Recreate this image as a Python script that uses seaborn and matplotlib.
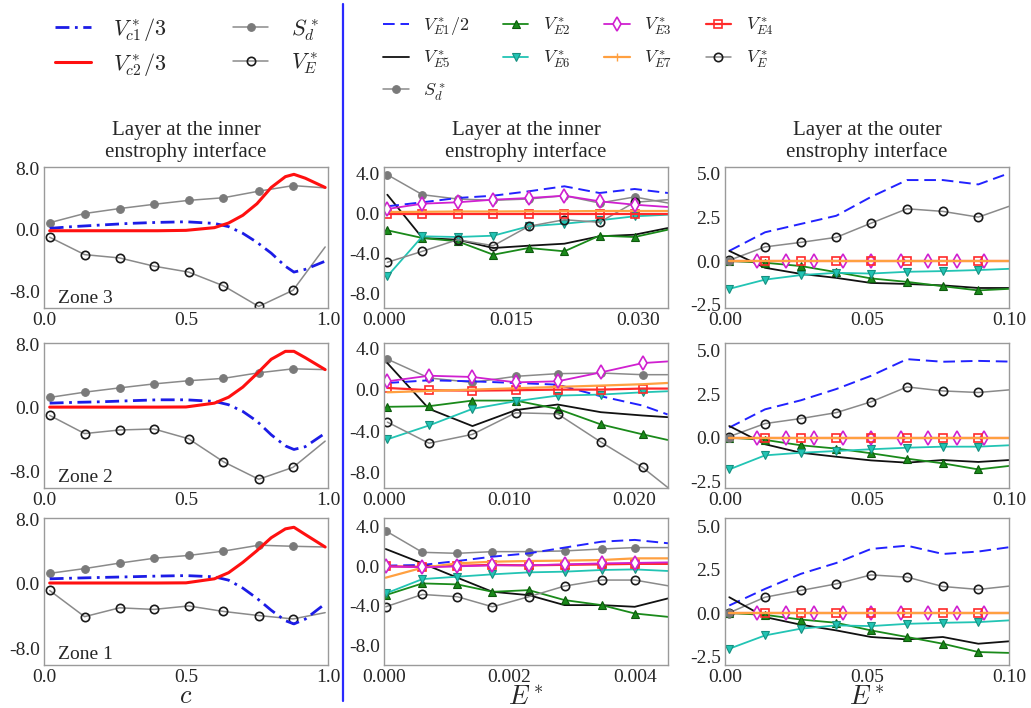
import matplotlib
matplotlib.use("Agg")
import matplotlib.pyplot as plt
from matplotlib.lines import Line2D
from matplotlib.ticker import FormatStrFormatter
import seaborn as sns

# ---------------- data ----------------
# column 1: c-space, rows = zone 3, zone 2, zone 1
c_mark = [0.02, 0.143, 0.266, 0.387, 0.509, 0.632, 0.756, 0.877, 0.99]
c_line = [0.02, 0.1, 0.2, 0.3, 0.4, 0.5, 0.6, 0.65, 0.7, 0.75, 0.8, 0.85, 0.88, 0.92, 0.99]

sd_c3 = [0.94, 2.13, 2.77, 3.32, 3.83, 4.17, 5.02, 5.74, 5.45]
ve_c3 = [-0.94, -3.19, -3.62, -4.68, -5.45, -7.23, -9.9, -7.8, -2.2]
vc1_c3 = [0.21, 0.43, 0.64, 0.85, 0.98, 1.06, 0.85, 0.43, -0.43, -1.6, -3.0, -4.7, -5.45, -5.1, -4.04]
vc2_c3 = [-0.1, -0.1, -0.1, -0.1, -0.1, -0.05, 0.3, 0.9, 1.9, 3.4, 5.5, 6.9, 7.2, 6.7, 5.5]

sd_c2 = [1.3, 1.96, 2.5, 3.0, 3.4, 3.7, 4.4, 4.9, 4.8]
ve_c2 = [-0.96, -3.25, -2.8, -2.67, -3.9, -6.8, -9.0, -7.5, -4.2]
vc1_c2 = [0.58, 0.67, 0.75, 0.88, 1.0, 1.0, 0.8, 0.38, -0.46, -1.7, -3.4, -4.8, -5.25, -4.9, -3.2]
vc2_c2 = [0.08, 0.08, 0.08, 0.08, 0.08, 0.1, 0.58, 1.33, 2.6, 4.3, 6.1, 7.1, 7.1, 6.3, 4.8]

sd_c1 = [1.28, 1.87, 2.55, 3.15, 3.5, 4.04, 4.77, 4.64, 4.55]
ve_c1 = [-0.85, -4.1, -3.0, -3.2, -2.77, -3.45, -3.96, -4.38, -3.6]
vc1_c1 = [0.6, 0.68, 0.77, 0.85, 0.94, 1.0, 0.85, 0.43, -0.55, -1.83, -3.3, -4.6, -5.0, -4.4, -2.5]
vc2_c1 = [0.08, 0.08, 0.08, 0.08, 0.08, 0.1, 0.6, 1.36, 2.64, 4.1, 5.7, 6.8, 7.0, 6.1, 4.55]

# column 2: inner enstrophy interface, E* axis
e_in3 = [0.00039, 0.00453, 0.00867, 0.01289, 0.01707, 0.02128, 0.02542, 0.02956, 0.0335]
ve1_in3 = [0.67, 1.07, 1.5, 1.73, 2.17, 2.67, 2.0, 2.4, 2.0]
ve2_in3 = [-1.73, -2.5, -2.83, -4.17, -3.5, -3.83, -2.27, -2.4, -1.67]
ve3_in3 = [0.4, 0.93, 1.07, 1.33, 1.5, 1.73, 1.17, 0.83, 0.6]
ve4_in3 = [-0.1, -0.1, -0.1, -0.1, -0.1, -0.1, -0.1, -0.1, -0.1]
ve5_in3 = [1.83, -2.5, -2.67, -3.5, -3.27, -3.07, -2.33, -2.17, -1.5]
ve6_in3 = [-6.33, -2.33, -2.4, -2.27, -1.33, -1.07, -0.73, -0.33, -0.17]
ve7_in3 = [0.1, 0.12, 0.15, 0.15, 0.17, 0.17, 0.2, 0.2, 0.2]
ve_in3 = [-4.93, -3.83, -2.67, -3.27, -1.33, -0.67, -0.93, 1.07, 1.33]
sd_in3 = [3.83, 1.83, 1.4, 1.27, 1.4, 1.73, 1.0, 1.6, 1.0]

e_in2 = [0.00027, 0.0036, 0.00707, 0.01053, 0.01387, 0.01733, 0.02067, 0.02267]
ve1_in2 = [0.64, 0.9, 0.8, 0.64, 0.48, -0.64, -1.54, -2.4]
ve2_in2 = [-1.66, -1.6, -1.06, -1.06, -1.86, -3.36, -4.32, -4.86]
ve3_in2 = [0.8, 1.34, 1.22, 0.7, 0.8, 1.66, 2.56, 2.72]
ve4_in2 = [0.16, -0.06, -0.1, -0.06, 0.0, 0.0, 0.1, 0.1]
ve5_in2 = [2.56, -1.86, -3.52, -1.98, -1.44, -2.18, -2.5, -2.66]
ve6_in2 = [-4.8, -3.46, -1.86, -1.12, -0.58, -0.48, -0.26, -0.16]
ve7_in2 = [-0.26, -0.13, 0.0, 0.13, 0.26, 0.39, 0.52, 0.64]
ve_in2 = [-3.14, -5.18, -4.32, -2.24, -2.34, -5.06, -7.52, -9.44]
sd_in2 = [2.94, 1.12, 0.7, 1.28, 1.54, 1.6, 1.44, 1.44]

e_in1 = [0.000027, 0.000613, 0.00117, 0.00173, 0.00231, 0.00288, 0.00347, 0.004, 0.00453]
ve1_in1 = [0.07, 0.14, 0.54, 0.98, 1.32, 1.9, 2.5, 2.68, 2.34]
ve2_in1 = [-2.92, -1.73, -1.83, -2.58, -2.41, -3.42, -3.93, -4.78, -5.12]
ve3_in1 = [0.0, -0.1, 0.0, 0.1, 0.1, 0.2, 0.3, 0.35, 0.4]
ve4_in1 = [0.0, -0.05, 0.05, 0.15, 0.1, 0.15, 0.2, 0.25, 0.25]
ve5_in1 = [1.76, 0.3, -1.15, -2.58, -2.92, -3.93, -3.93, -4.1, -3.25]
ve6_in1 = [-2.75, -1.29, -1.05, -0.81, -0.61, -0.54, -0.37, -0.31, -0.47]
ve7_in1 = [-1.15, -0.14, 0.3, 0.47, 0.54, 0.58, 0.64, 0.81, 0.81]
ve_in1 = [-4.1, -2.85, -3.08, -4.1, -3.08, -2.0, -1.39, -1.39, -1.97]
sd_in1 = [3.6, 1.42, 1.32, 1.49, 1.49, 1.56, 1.76, 1.9, 1.9]

# column 3: outer enstrophy interface
e_out = [0.0015, 0.0141, 0.0267, 0.0392, 0.0514, 0.0641, 0.0767, 0.0892, 0.1]
e_out_d = [0.0112, 0.0215, 0.0312, 0.0416, 0.0514, 0.0618, 0.0715, 0.0816, 0.0912]
zero_out = [0, 0, 0, 0, 0, 0, 0, 0, 0]

ve1_out3 = [0.58, 1.65, 2.13, 2.6, 3.68, 4.65, 4.65, 4.4, 5.04]
ve2_out3 = [0.0, -0.1, -0.29, -0.64, -1.0, -1.2, -1.45, -1.69, -1.6]
ve5_out3 = [0.58, -0.39, -0.74, -0.97, -1.26, -1.32, -1.4, -1.55, -1.55]
ve6_out3 = [-1.6, -1.07, -0.81, -0.68, -0.72, -0.62, -0.58, -0.52, -0.45]
ve_out3 = [0.04, 0.81, 1.07, 1.36, 2.17, 3.0, 2.85, 2.52, 3.14]

ve1_out2 = [0.58, 1.63, 2.15, 2.8, 3.56, 4.52, 4.37, 4.42, 4.38]
ve2_out2 = [0.0, -0.13, -0.44, -0.63, -0.9, -1.21, -1.48, -1.83, -1.63]
ve5_out2 = [0.67, -0.38, -0.87, -1.1, -1.31, -1.44, -1.29, -1.4, -1.29]
ve6_out2 = [-1.83, -1.02, -0.87, -0.77, -0.67, -0.58, -0.52, -0.52, -0.44]
ve_out2 = [0.06, 0.81, 1.1, 1.44, 2.06, 2.92, 2.69, 2.6, 2.75]

ve1_out1 = [0.44, 1.4, 2.27, 2.9, 3.71, 3.9, 3.42, 3.56, 3.81]
ve2_out1 = [0.0, -0.1, -0.37, -0.56, -1.0, -1.38, -1.77, -2.25, -2.3]
ve5_out1 = [0.92, -0.23, -0.67, -1.0, -1.38, -1.52, -1.38, -1.77, -1.63]
ve6_out1 = [-2.06, -1.29, -0.9, -0.71, -0.75, -0.62, -0.56, -0.52, -0.42]
ve_out1 = [0.02, 0.92, 1.31, 1.69, 2.21, 2.08, 1.54, 1.37, 1.56]

zones = ["Zone 3", "Zone 2", "Zone 1"]

# ---------------- style ----------------
sns.set_style("white")
plt.rcParams["font.family"] = ["Liberation Serif", "DejaVu Serif"]
plt.rcParams["mathtext.fontset"] = "cm"
plt.rcParams["axes.unicode_minus"] = False

styles = {
    "vc1": dict(color="#1c1ce6", lw=2.0, ls=(0, (5, 2, 1, 2))),
    "vc2": dict(color="#ff1010", lw=2.2),
    "VE1": dict(color="#2222ff", lw=1.4, ls=(0, (6, 3))),
    "VE2": dict(color="#1a8a1a", lw=1.3, marker="^", ms=5.5, mfc="#1a8a1a", mec="#0d5a0d", mew=0.8),
    "VE3": dict(color="#d020d0", lw=1.3, marker="d", ms=7, mfc="white", mec="#d020d0", mew=1.2),
    "VE4": dict(color="#ff2a2a", lw=1.6, marker="s", ms=6, mfc="none", mec="#ff2a2a", mew=1.2),
    "VE5": dict(color="#111111", lw=1.3),
    "VE6": dict(color="#22c4b4", lw=1.3, marker="v", ms=5.5, mfc="#22c4b4", mec="#169080", mew=0.8),
    "VE7": dict(color="#ffa040", lw=1.6),
    "VE": dict(color="#8a8a8a", lw=1.1, marker="o", ms=6, mfc="none", mec="#1a1a1a", mew=1.2),
    "Sd": dict(color="#8a8a8a", lw=1.1, marker="o", ms=5.5, mfc="#7a7a7a", mec="#7a7a7a", mew=0.8),
}


def draw(ax, x, y, key, every=None):
    st = dict(styles[key])
    if every is not None:
        st["markevery"] = every
    sns.lineplot(x=x, y=y, ax=ax, sort=False, errorbar=None, legend=False, **st)


fig = plt.figure(figsize=(10.31, 7.08), dpi=100)
W, H = 1031, 708
lefts = [44, 384, 725]
rows = [(167, 308), (343, 488), (518, 665)]
axes = [[fig.add_axes([l / W, 1 - b / H, 284 / W, (b - t) / H]) for l in lefts] for t, b in rows]

# column 1
col1 = [(sd_c3, ve_c3, vc1_c3, vc2_c3), (sd_c2, ve_c2, vc1_c2, vc2_c2), (sd_c1, ve_c1, vc1_c1, vc2_c1)]
for r, (sd, ve, v1, v2) in enumerate(col1):
    ax = axes[r][0]
    draw(ax, c_mark, sd, "Sd", slice(0, 8))
    draw(ax, c_mark, ve, "VE", slice(0, 8))
    draw(ax, c_line, v1, "vc1")
    draw(ax, c_line, v2, "vc2")
    ax.set_xlim(0, 1)
    ax.set_ylim(-10.1, 8.15)
    ax.set_xticks([0, 0.5, 1.0])
    ax.set_yticks([-8, 0, 8])
    ax.xaxis.set_major_formatter(FormatStrFormatter("%.1f"))
    ax.yaxis.set_major_formatter(FormatStrFormatter("%.1f"))
    ax.text(0.05, 0.07, zones[r], transform=ax.transAxes, fontsize=14, va="center")

# column 2
col2 = [
    (e_in3, ve1_in3, ve2_in3, ve3_in3, ve4_in3, ve5_in3, ve6_in3, ve7_in3, ve_in3, sd_in3),
    (e_in2, ve1_in2, ve2_in2, ve3_in2, ve4_in2, ve5_in2, ve6_in2, ve7_in2, ve_in2, sd_in2),
    (e_in1, ve1_in1, ve2_in1, ve3_in1, ve4_in1, ve5_in1, ve6_in1, ve7_in1, ve_in1, sd_in1),
]
xlims2 = [0.0335, 0.0227, 0.00453]
xticks2 = [[0, 0.015, 0.030], [0, 0.010, 0.020], [0, 0.002, 0.004]]
ylims2 = [(-9.5, 4.6), (-9.5, 4.5), (-10.0, 4.9)]
for r, (x, v1, v2, v3, v4, v5, v6, v7, ve, sd) in enumerate(col2):
    ax = axes[r][1]
    n = slice(0, len(x) - 1)
    draw(ax, x, sd, "Sd", n)
    draw(ax, x, v5, "VE5")
    draw(ax, x, v1, "VE1")
    draw(ax, x, v2, "VE2", n)
    draw(ax, x, v6, "VE6", n)
    draw(ax, x, ve, "VE", n)
    draw(ax, x, v4, "VE4", n)
    draw(ax, x, v7, "VE7")
    draw(ax, x, v3, "VE3", n)
    ax.set_xlim(0, xlims2[r])
    ax.set_ylim(*ylims2[r])
    ax.set_xticks(xticks2[r])
    ax.set_yticks([-8, -4, 0, 4])
    ax.xaxis.set_major_formatter(FormatStrFormatter("%.3f"))
    ax.yaxis.set_major_formatter(FormatStrFormatter("%.1f"))

# column 3
col3 = [
    (ve1_out3, ve2_out3, ve5_out3, ve6_out3, ve_out3),
    (ve1_out2, ve2_out2, ve5_out2, ve6_out2, ve_out2),
    (ve1_out1, ve2_out1, ve5_out1, ve6_out1, ve_out1),
]
ylims3 = [(-2.7, 5.4), (-2.9, 5.45), (-3.0, 5.5)]
for r, (v1, v2, v5, v6, ve) in enumerate(col3):
    ax = axes[r][2]
    n = slice(0, 8)
    draw(ax, e_out, v1, "VE1")
    draw(ax, e_out, ve, "VE", n)
    draw(ax, e_out, v5, "VE5")
    draw(ax, e_out, v2, "VE2", n)
    draw(ax, e_out, v6, "VE6", n)
    draw(ax, e_out, zero_out, "Sd", [0])
    draw(ax, e_out_d, zero_out, "VE3")
    draw(ax, e_out, zero_out, "VE4", slice(1, 8))
    draw(ax, e_out, zero_out, "VE7")
    ax.set_xlim(0, 0.1)
    ax.set_ylim(*ylims3[r])
    ax.set_xticks([0, 0.05, 0.10])
    ax.set_yticks([-2.5, 0, 2.5, 5.0])
    ax.xaxis.set_major_formatter(FormatStrFormatter("%.2f"))
    ax.yaxis.set_major_formatter(FormatStrFormatter("%.1f"))

for row in axes:
    for ax in row:
        ax.set_xlabel("")
        ax.set_ylabel("")
        ax.tick_params(length=0, labelsize=14, pad=3)
        for s in ax.spines.values():
            s.set_color("#9a9a9a")
            s.set_linewidth(1.0)

axes[0][0].set_title("Layer at the inner\nenstrophy interface", fontsize=15, pad=7, linespacing=1.15)
axes[0][1].set_title("Layer at the inner\nenstrophy interface", fontsize=15, pad=7, linespacing=1.15)
axes[0][2].set_title("Layer at the outer\nenstrophy interface", fontsize=15, pad=7, linespacing=1.15)

# x labels under the bottom row
for c, lab in zip([186, 526, 867], [r"$c$", r"$E^*$", r"$E^*$"]):
    fig.text(c / W, 1 - 686 / H, lab, fontsize=19, ha="center", va="top")

# separator line
fig.add_artist(Line2D([343 / W, 343 / W], [0.01, 0.995], color="#2a2aff", lw=1.6))


# legends
def proxy(key):
    st = dict(styles[key])
    if key == "VE7":
        st.update(marker="|", ms=6)
    return Line2D([], [], **st)


h1 = [proxy("vc1"), proxy("vc2"), proxy("Sd"), proxy("VE")]
l1 = [r"$V_{c1}^*/3$", r"$V_{c2}^*/3$", r"$S_d^*$", r"$V_E^*$"]
fig.legend(h1, l1, ncol=2, loc="upper left", bbox_to_anchor=(35 / W, 1 + 4 / H), frameon=False,
           fontsize=16, handlelength=1.6, columnspacing=3.0, labelspacing=0.35, handletextpad=1.0)

h2 = [proxy(k) for k in ["VE1", "VE5", "Sd", "VE2", "VE6", "VE3", "VE7", "VE4", "VE"]]
l2 = [r"$V_{E1}^*/2$", r"$V_{E5}^*$", r"$S_d^*$", r"$V_{E2}^*$", r"$V_{E6}^*$",
      r"$V_{E3}^*$", r"$V_{E7}^*$", r"$V_{E4}^*$", r"$V_E^*$"]
fig.legend(h2, l2, ncol=4, loc="upper left", bbox_to_anchor=(367 / W, 1 + 1 / H), frameon=False,
           fontsize=13, handlelength=1.4, columnspacing=1.87, labelspacing=0.6, handletextpad=0.8)

fig.savefig("out.png", dpi=100)
